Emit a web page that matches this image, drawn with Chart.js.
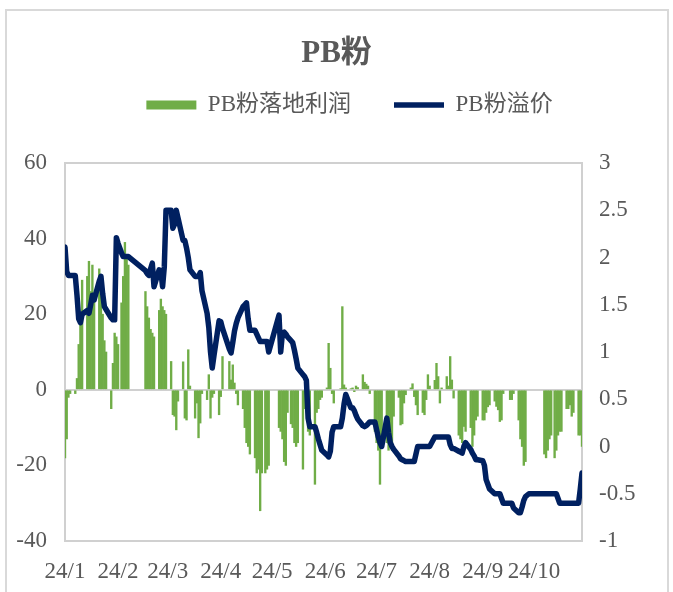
<!DOCTYPE html>
<html>
<head>
<meta charset="utf-8">
<script src="https://cdn.jsdelivr.net/npm/chart.js@4.4.1/dist/chart.umd.min.js"></script>
<style>
  html, body { margin: 0; padding: 0; background: #fff; overflow: hidden; }
  #wrap { position: relative; width: 673px; height: 592px; }
  #frame { position: absolute; left: 5px; top: 9px; width: 664px; height: 620px; box-sizing: border-box; border: 2px solid #d9d9d9; }
  #chart { position: absolute; left: 0; top: 0; }
</style>
</head>
<body>
<div id="wrap">
  <div id="frame"></div>
  <canvas id="chart" width="673" height="592"></canvas>
</div>
<script>
// trading calendar (2024, mainland China)
const holidays = ['2024-01-01', '2024-02-09', '2024-02-12', '2024-02-13', '2024-02-14', '2024-02-15', '2024-02-16',
  '2024-04-04', '2024-04-05', '2024-05-01', '2024-05-02', '2024-05-03', '2024-06-10', '2024-09-16', '2024-09-17',
  '2024-10-01', '2024-10-02', '2024-10-03', '2024-10-04', '2024-10-07'];
const makeupDays = ['2024-02-04', '2024-02-18', '2024-04-07', '2024-04-28', '2024-05-11', '2024-09-14', '2024-09-29', '2024-10-12'];
const firstDay = '2024-01-02';
const lastDay = '2024-10-30';

const monthLabels = ['24/1', '24/2', '24/3', '24/4', '24/5', '24/6', '24/7', '24/8', '24/9', '24/10'];

// PB粉落地利润, one value per trading day, month by month
const profitJan = [-18, -13, -2, -1, -1, 3, 12, 19, 29, 30, 34, 26, 33, 24, 32, 27, 20, 13, 10, -5, 7, 15];
const profitFeb = [14, 12, 23, 30, 39, 35, 33, 26, 22, 19, 16, 15, 14, 21, 24, 22, 21];
const profitMar = [20, 7.5, -6.6, -7, -10.6, -3, 7.4, -7.5, -8, 10.6, 1, -7.5, -3.5, -12.7, -8.8, -1, -2.6, 4, -7.5, -2, -1];
const profitApr = [-6.6, -1.8, 8.8, 7.5, 2.6, 6.6, 1.8, -1, -4, -5, -10, -14, -15, -17, -18, -22, -21, -32, -22, -22, -21, -20];
const profitMay = [-10, -11, -13, -19, -20, -6, -9, -10, -14, -15, -14, -21, -5, -2.6, -11, -12, -25, -6, -5, -2.6, -2];
const profitJun = [0.5, 12.3, 5.7, -1, -3.5, 0.3, 22, 1.3, 0.5, 0.3, 0.5, -0.5, 1, 0.6, 4, 2, 1.5, 1, -1];
const profitJul = [-11, -14, -16, -25, -13, -14, -16, -15, -16, -7, -2, -9.3, -9, -3.5, -1.3, 0.5, 1.6, -1.8, -4, -6.6, -6, -6.6, -2.6];
const profitAug = [4, 1, 2.5, 7, 3.5, -3.5, 0.5, 3.5, 1, 8.8, 2.6, -2.2, -12, -13, -14, -9.7, -11, -10, -15, -12, -8, -7];
const profitSep = [-8, -8, -6, -4.5, -4, -3, -4.4, -5.3, -8.4, -8, -1, -2.6, -2.6, -1, -8, -13, -15, -20, -19, null, null];
const profitOct = [-17, -18, -16, -13, -12, -18, -16, -12, -11, -11, -5, -5, -4, -7, -6, -12, -12, -15];

// PB粉溢价
const premJan = [2.11, 1.85, 1.81, 1.81, 1.81, 1.6, 1.35, 1.31, 1.4, 1.44, 1.41, 1.5, 1.6, 1.55, 1.75, 1.8, 1.62, 1.48, 1.45, 1.36, 1.34, 1.34];
const premFeb = [2.21, 2.15, 2.05, 2.01, 2.01, 2.01, 2.01, 1.86, 1.83, 1.81, 1.88, 1.94, 1.69, 1.87, 1.85, 1.69, 1.9];
const premMar = [2.5, 2.5, 2.31, 2.35, 2.5, 2.42, 2.18, 2.18, 2.1, 2.0, 1.87, 1.8, 1.8, 1.8, 1.84, 1.65, 1.41, 1.26, 1.0, 0.83, 0.96];
const premApr = [1.33, 1.32, 1.25, 1.03, 0.99, 1.1, 1.22, 1.3, 1.36, 1.48, 1.5, 1.52, 1.35, 1.23, 1.23, 1.19, 1.15, 1.11, 1.11, 1.11, 1.11, 1.0];
const premMay = [1.39, 1.0, 1.2, 1.21, 1.19, 1.16, 1.12, 1.1, 1.02, 0.93, 0.83, 0.76, 0.74, 0.7, 0.3, 0.21, 0.21, 0.15, 0.08, 0.02, -0.04];
const premJun = [-0.09, -0.11, -0.05, 0.15, 0.21, 0.21, 0.3, 0.45, 0.55, 0.41, 0.41, 0.38, 0.33, 0.29, 0.22, 0.21, 0.22, 0.24, 0.26];
const premJul = [0.26, 0.18, 0.1, 0.04, 0.0, 0.3, 0.15, 0.04, 0.0, -0.03, -0.1, -0.13, -0.14, -0.15, -0.16, -0.16, -0.16, -0.16, -0.08, 0.0, 0.0, 0.0, 0.0];
const premAug = [0.0, 0.0, 0.1, 0.1, 0.1, 0.1, 0.1, 0.1, 0.1, 0.02, -0.02, -0.02, -0.05, -0.06, -0.07, 0.0, 0.04, -0.03, -0.07, -0.1, -0.14, -0.14];
const premSep = [-0.15, -0.2, -0.35, -0.4, -0.45, -0.5, -0.5, -0.5, -0.5, -0.55, -0.6, -0.6, -0.6, -0.65, -0.7, -0.7, -0.64, -0.57, -0.53, -0.5, -0.5];
const premOct = [-0.5, -0.5, -0.5, -0.5, -0.5, -0.5, -0.5, -0.55, -0.6, -0.6, -0.6, -0.6, -0.6, -0.6, -0.6, -0.6, -0.45, -0.28];

const profit = [].concat(profitJan, profitFeb, profitMar, profitApr, profitMay, profitJun, profitJul, profitAug, profitSep, profitOct);
const premium = [].concat(premJan, premFeb, premMar, premApr, premMay, premJun, premJul, premAug, premSep, premOct);

const DAY = 86400000;
const yearStart = Date.UTC(2024, 0, 1);
const dayOf = iso => (Date.parse(iso + 'T00:00:00Z') - yearStart) / DAY;

function tradingDays() {
  const out = [];
  for (let t = Date.parse(firstDay + 'T00:00:00Z'); t <= Date.parse(lastDay + 'T00:00:00Z'); t += DAY) {
    const d = new Date(t);
    const iso = d.toISOString().slice(0, 10);
    const wd = d.getUTCDay();
    if (makeupDays.includes(iso) || (wd !== 0 && wd !== 6 && !holidays.includes(iso))) out.push(dayOf(iso));
  }
  return out;
}

const days = tradingDays();
const tickDays = monthLabels.map((_, m) => (Date.UTC(2024, m, 2) - yearStart) / DAY);

const txt = '#595959';
const frameGray = '#d0d0d0';
const family = '"Liberation Serif", "Times New Roman", "Noto Sans CJK SC", serif';

// extra room under the legend, and nudge it right like the original
const legendGap = {
  id: 'legendGap',
  beforeInit(chart) {
    const fit = chart.legend.fit;
    chart.legend.fit = function () {
      fit.bind(chart.legend)();
      this.height += 36.5;
    };
  },
  afterLayout(chart) {
    chart.legend.left += 13;
    chart.legend.right += 13;
  }
};

new Chart(document.getElementById('chart'), {
  data: {
    datasets: [
      {
        type: 'bar',
        label: 'PB粉落地利润',
        data: days.map((d, i) => ({ x: d, y: profit[i] })),
        backgroundColor: '#70ad47',
        borderWidth: 0,
        barPercentage: 1,
        categoryPercentage: 1,
        pointStyle: 'rect',
        yAxisID: 'y',
        order: 1
      },
      {
        type: 'line',
        label: 'PB粉溢价',
        data: days.map((d, i) => ({ x: d, y: premium[i] })),
        borderColor: '#002060',
        backgroundColor: '#002060',
        borderWidth: 5.5,
        borderJoinStyle: 'round',
        borderCapStyle: 'round',
        pointRadius: 0,
        pointStyle: 'line',
        tension: 0,
        yAxisID: 'y1',
        order: 0
      }
    ]
  },
  plugins: [legendGap],
  options: {
    responsive: false,
    animation: false,
    devicePixelRatio: 1,
    layout: { padding: 0 },
    plugins: {
      title: {
        display: true,
        text: 'PB粉',
        color: txt,
        font: { family, size: 31, weight: 'bold', lineHeight: '3px' },
        padding: { top: 52.5, bottom: -5 }
      },
      legend: {
        display: true,
        labels: {
          color: txt,
          font: { family, size: 23 },
          usePointStyle: true,
          pointStyleWidth: 50,
          boxHeight: 9,
          padding: 43,
          sort: (a, b) => a.datasetIndex - b.datasetIndex
        }
      },
      tooltip: { enabled: false }
    },
    scales: {
      x: {
        type: 'linear',
        min: 1,
        max: 303,
        offset: false,
        afterFit: s => { s.height = 51; },
        afterBuildTicks: s => { s.ticks = tickDays.map(v => ({ value: v })); },
        grid: { display: false, offset: false },
        border: { display: true, color: frameGray, width: 2 },
        ticks: {
          autoSkip: false,
          maxRotation: 0,
          minRotation: 0,
          padding: 9,
          color: txt,
          font: { family, size: 23 },
          callback: (v, i) => monthLabels[i]
        }
      },
      y: {
        position: 'left',
        min: -40,
        max: 60,
        afterFit: s => { s.width = 65; },
        ticks: { stepSize: 20, padding: 18, color: txt, font: { family, size: 23 } },
        grid: {
          drawTicks: false,
          lineWidth: 2,
          color: c => (c.tick && (c.tick.value === 0 || c.tick.value === 60)) ? frameGray : 'rgba(0,0,0,0)'
        },
        border: { display: true, color: frameGray, width: 2 }
      },
      y1: {
        position: 'right',
        min: -1,
        max: 3,
        afterFit: s => { s.width = 91; },
        ticks: {
          stepSize: 0.5,
          padding: 17,
          color: txt,
          font: { family, size: 23 },
          callback: v => String(Math.round(v * 10) / 10)
        },
        grid: { drawOnChartArea: false, drawTicks: false },
        border: { display: true, color: frameGray, width: 2 }
      }
    }
  }
});
</script>
</body>
</html>
